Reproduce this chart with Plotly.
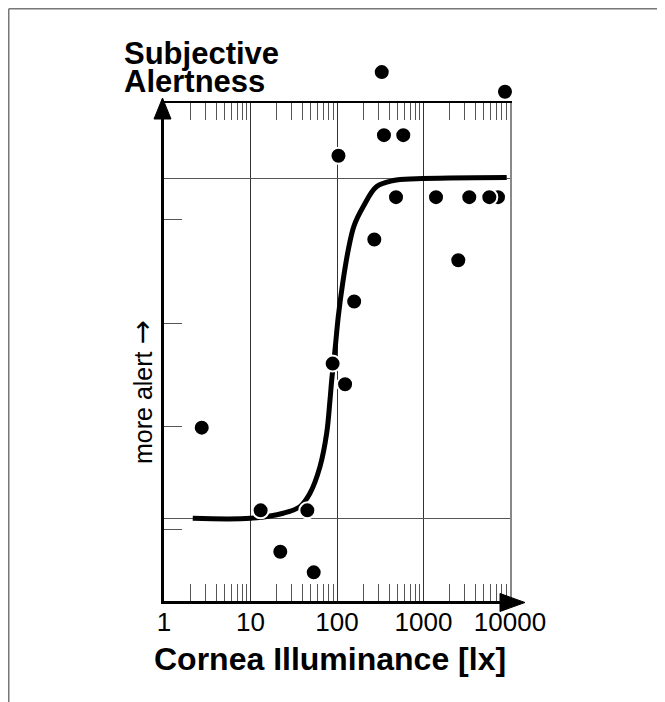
import plotly.graph_objects as go

FONT = 'Liberation Sans, Arial, sans-serif'

# single observations: illuminance at the cornea (lx) and rated alertness
lux = [329, 8750, 349, 584, 104, 481, 1395, 3383, 7265, 5765, 270, 2525,
       158, 89, 124, 2.73, 13.1, 45.4, 22.1, 53.8]
alertness = [5.43, 5.24, 4.82, 4.82, 4.62, 4.22, 4.22, 4.22, 4.22, 4.22, 3.81, 3.61,
             3.21, 2.61, 2.41, 1.99, 1.19, 1.19, 0.79, 0.59]

# fitted dose-response curve
curve_lux = [2.15, 10, 23.9, 37.3, 48.7, 63.6, 76.0, 83.0, 86.9, 94.8, 103.5,
             116.4, 135.1, 157.3, 201.4, 287.7, 448, 834, 9160]
curve_alertness = [1.113, 1.113, 1.162, 1.226, 1.355, 1.613, 1.936, 2.258, 2.452, 2.742, 3.065,
                   3.388, 3.711, 3.943, 4.130, 4.323, 4.381, 4.398, 4.410]

x_ticks = [1, 10, 100, 1000, 10000]
x_labels = ['1', '10', '100', '1000', '10000']
x_minor = [m * d for d in (1, 10, 100, 1000) for m in range(2, 10)]
y_ticks = [1, 2, 3, 4]
y_grid = [1.113, 4.398]   # lower and upper plateau of the fit
y_range = [0.313, 5.131]

# the page sits 8px in from the window corner
OFF = 8
W, H = 657, 694
L, R, T, B = 156, 155, 52, 101
pw, ph = W - L - R, H - T - B
frame_top = (H - B - (103 - OFF)) / ph          # top of the boxed chart, as a fraction
y_full = [y_range[0], y_range[0] + (y_range[1] - y_range[0]) / frame_top]


def px(x):
    return (x - OFF - L) / pw


def py(y):
    return (H - B - (y - OFF)) / ph


fig = go.Figure()

# keeps the overlay axes (top frame, right edge, plateau lines) alive
fig.add_trace(go.Scatter(x=[1], y=[None], xaxis='x2', yaxis='y2', showlegend=False, hoverinfo='skip'))
# data go on a full-height twin so the points above the box stay visible
fig.add_trace(go.Scatter(x=curve_lux, y=curve_alertness, mode='lines', xaxis='x3', yaxis='y3',
                         line=dict(color='black', width=5, shape='spline'),
                         showlegend=False, hoverinfo='skip'))
fig.add_trace(go.Scatter(x=lux, y=alertness, mode='markers', xaxis='x3', yaxis='y3',
                         cliponaxis=False, showlegend=False,
                         marker=dict(color='black', size=16, line=dict(color='white', width=2))))
fig.add_trace(go.Scatter(x=[1], y=[None], showlegend=False, hoverinfo='skip'))

minor = dict(tickvals=x_minor, ticks='inside', ticklen=17, tickcolor='#555', tickwidth=1, showgrid=False)

fig.update_layout(
    width=W, height=H,
    margin=dict(l=L, r=R, t=T, b=B),
    paper_bgcolor='white', plot_bgcolor='rgba(0,0,0,0)',
    font=dict(family=FONT, color='black'),
    xaxis=dict(type='log', range=[0, 4], domain=[0, 1], anchor='y',
               tickvals=x_ticks, ticktext=x_labels, ticks='', ticklabelstandoff=-4,
               tickfont=dict(size=26), showgrid=True, gridcolor='#333', gridwidth=1,
               showline=True, linecolor='black', linewidth=3, zeroline=False, minor=minor),
    xaxis2=dict(type='log', range=[0, 4], overlaying='x', side='top', anchor='y',
                tickvals=x_ticks, ticks='', showticklabels=False, showgrid=False,
                showline=True, linecolor='black', linewidth=1.5, minor=minor),
    yaxis=dict(range=y_range, domain=[0, frame_top], anchor='x',
               tickvals=y_ticks, ticks='inside', ticklen=18, tickcolor='#555', tickwidth=1,
               showticklabels=False, showgrid=False, zeroline=False,
               showline=True, linecolor='black', linewidth=3),
    yaxis2=dict(range=y_range, overlaying='y', side='right', anchor='x',
                tickvals=y_grid, ticks='', showticklabels=False, zeroline=False,
                showgrid=True, gridcolor='#555', gridwidth=1,
                showline=True, linecolor='#888', linewidth=1.5),
    xaxis3=dict(type='log', range=[0, 4], domain=[0, 1], anchor='y3', visible=False),
    yaxis3=dict(range=y_full, domain=[0, 1], anchor='x3', visible=False),
    annotations=[
        dict(text='<b>Subjective</b>', x=px(122), y=py(53), xref='paper', yref='paper',
             xanchor='left', yanchor='middle', showarrow=False, font=dict(size=31)),
        dict(text='<b>Alertness</b>', x=px(122), y=py(82), xref='paper', yref='paper',
             xanchor='left', yanchor='middle', showarrow=False, font=dict(size=31)),
        dict(text='<b>Cornea Illuminance [lx]</b>', x=px(330), y=py(659), xref='paper', yref='paper',
             xanchor='center', yanchor='middle', showarrow=False, font=dict(size=32)),
        dict(text='more alert <span style="font-family:DejaVu Sans;font-size:29px">\u2192</span>',
             x=px(142), y=py(392), xref='paper', yref='paper',
             xanchor='center', yanchor='middle', textangle=-90, showarrow=False, font=dict(size=25)),
    ],
    shapes=[
        # arrow heads on both axes
        dict(type='path', xref='paper', yref='paper', xsizemode='pixel', ysizemode='pixel',
             xanchor=0, yanchor=frame_top, path='M -10,-16 L -1.5,5 L 7,-16 Z',
             fillcolor='black', line=dict(color='black', width=1)),
        dict(type='path', xref='paper', yref='paper', xsizemode='pixel', ysizemode='pixel',
             xanchor=1, yanchor=0, path='M -10,7.5 L 15,-1.5 L -10,-10.5 Z',
             fillcolor='black', line=dict(color='black', width=1)),
        # page frame
        dict(type='line', xref='paper', yref='paper', x0=px(OFF + 0.75), x1=px(W + OFF + 5),
             y0=py(OFF + 0.75), y1=py(OFF + 0.75), line=dict(color='#777', width=1.5)),
        dict(type='line', xref='paper', yref='paper', x0=px(OFF + 0.75), x1=px(OFF + 0.75),
             y0=py(OFF + 0.75), y1=py(H + OFF + 5), line=dict(color='#777', width=1.5)),
    ],
)

fig.write_html("out.html")
